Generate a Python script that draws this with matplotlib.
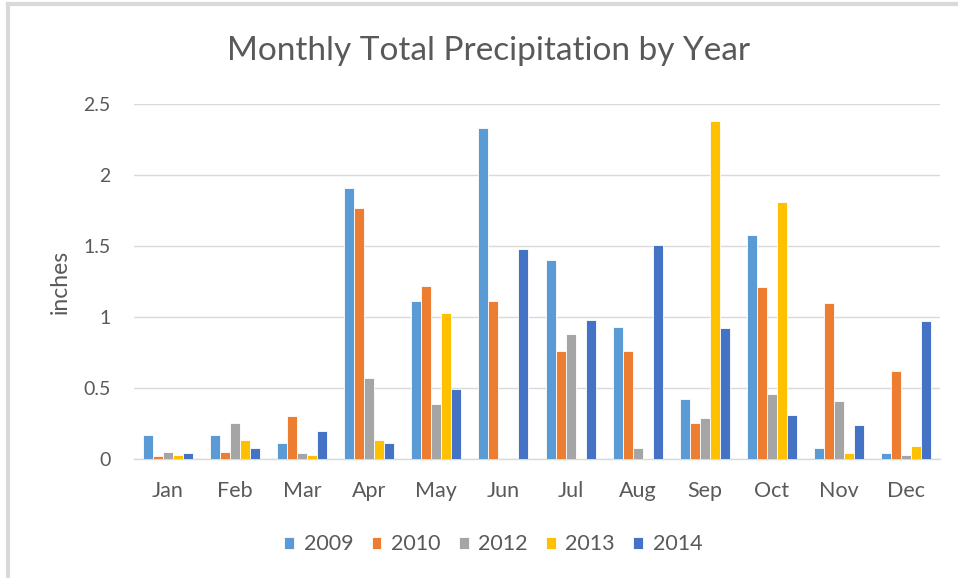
import numpy as np
import matplotlib
matplotlib.use("Agg")
import matplotlib.pyplot as plt
from matplotlib.lines import Line2D

plt.rcParams['font.family'] = ['Lato', 'DejaVu Sans']

months = ['Jan', 'Feb', 'Mar', 'Apr', 'May', 'Jun',
          'Jul', 'Aug', 'Sep', 'Oct', 'Nov', 'Dec']
years = ['2009', '2010', '2012', '2013', '2014']

p2009 = [0.17, 0.17, 0.11, 1.91, 1.11, 2.33, 1.40, 0.93, 0.42, 1.58, 0.075, 0.04]
p2010 = [0.02, 0.05, 0.30, 1.77, 1.22, 1.11, 0.76, 0.76, 0.25, 1.21, 1.10, 0.62]
p2012 = [0.05, 0.25, 0.04, 0.57, 0.39, 0.0, 0.88, 0.075, 0.29, 0.455, 0.41, 0.03]
p2013 = [0.03, 0.13, 0.03, 0.13, 1.03, 0.0, 0.01, 0.01, 2.38, 1.81, 0.04, 0.09]
p2014 = [0.04, 0.075, 0.20, 0.11, 0.49, 1.48, 0.98, 1.51, 0.92, 0.31, 0.24, 0.97]

series = [p2009, p2010, p2012, p2013, p2014]
colors = ['#5B9BD5', '#ED7D31', '#A5A5A5', '#FFC000', '#4472C4']
txt = '#595959'

fig = plt.figure(figsize=(9.58, 5.78), dpi=100)
ax = fig.add_axes([0.140, 0.206, 0.841, 0.614])

x = np.arange(len(months))
w = 0.149
for i, (vals, c, yr) in enumerate(zip(series, colors, years)):
    ax.bar(x + (i - 2) * w, vals, width=w, color=c, edgecolor='white',
           linewidth=0.6, label=yr, zorder=3)

ax.set_xlim(-0.5, 11.5)
ax.set_ylim(0, 2.5)
ax.set_yticks([0, 0.5, 1, 1.5, 2, 2.5])
ax.set_yticklabels(['0', '0.5', '1', '1.5', '2', '2.5'])
ax.set_xticks(x)
ax.set_xticklabels(months)
ax.grid(axis='y', color='#D9D9D9', linewidth=1, zorder=0)
for s in ['top', 'right', 'left']:
    ax.spines[s].set_visible(False)
ax.spines['bottom'].set_color('#D9D9D9')
ax.spines['bottom'].set_linewidth(1)
ax.tick_params(axis='x', length=0, labelsize=15.5, colors=txt, pad=16)
ax.tick_params(axis='y', length=0, labelsize=14, colors=txt, pad=17)
ax.set_ylabel('inches', fontsize=16.5, color=txt, labelpad=9)

fig.text(0.51, 0.912, 'Monthly Total Precipitation by Year', ha='center',
         va='center', fontsize=24, color=txt)

leg = fig.legend(loc='center', bbox_to_anchor=(0.515, 0.058), ncol=5,
                 frameon=False, fontsize=15.5, handlelength=0.45,
                 handleheight=0.45, handletextpad=0.45, columnspacing=0.85,
                 labelcolor=txt)

# outer frame, left and top edges only
fig.add_artist(Line2D([0.008, 0.008], [0, 0.993], color='#D9D9D9', lw=3,
                      transform=fig.transFigure))
fig.add_artist(Line2D([0.008, 1], [0.993, 0.993], color='#D9D9D9', lw=3,
                      transform=fig.transFigure))

fig.savefig('out.png', dpi=100, facecolor='white')
